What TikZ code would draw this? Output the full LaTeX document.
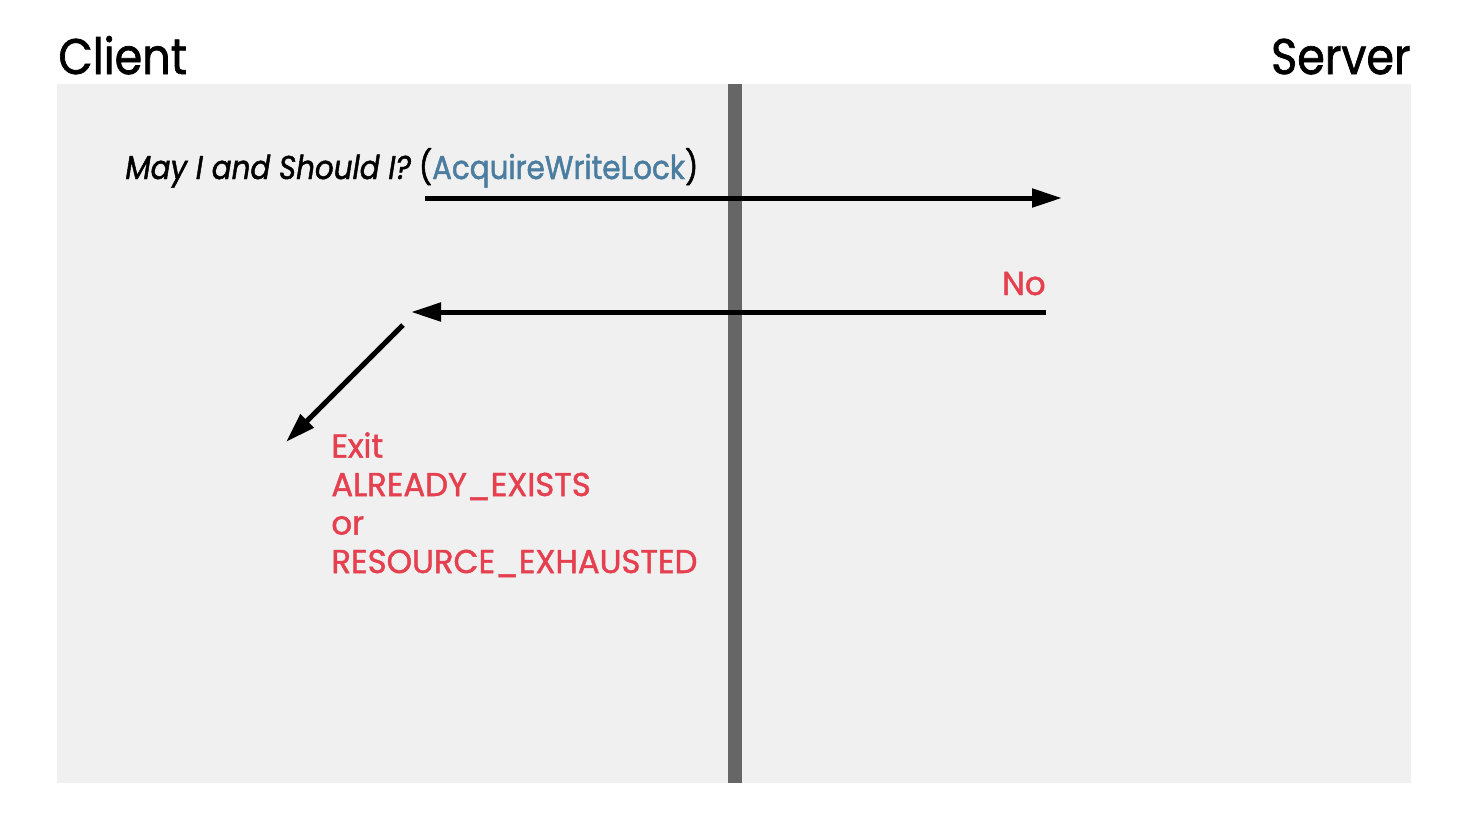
\documentclass[tikz,border=0pt]{standalone}
\usepackage{fontspec}
\setmainfont{Poppins}[FakeStretch=0.89, FakeBold=1.4]
\newfontfamily\replyfont{Poppins}[FakeStretch=0.98, FakeBold=1.4]
\usepackage{xcolor}
\usetikzlibrary{arrows.meta}

\definecolor{panelgray}{HTML}{F0F0F0}
\definecolor{bargray}{HTML}{666666}
\definecolor{noRed}{HTML}{E5404F}
\definecolor{rpcBlue}{HTML}{4A7DA0}

\begin{document}
\begin{tikzpicture}[x=0.5pt, y=-0.5pt,
    msg/.style={line width=2.5pt, -{Triangle[length=15pt, width=9pt]}},
    title/.style={inner sep=0, font=\fontsize{25}{30}\selectfont},
    reply/.style={inner sep=0, text=noRed, font=\replyfont\fontsize{16.5}{19.25}\selectfont}]
    \useasboundingbox (0,0) rectangle (1482,832);
    \fill[panelgray] (57,84) rectangle (1411,783);
    \fill[bargray] (728,84) rectangle (742,783);

    \node[title, anchor=base west] (client) at (58,74) {Client};
    \node[title, anchor=base east] (server) at (1411,74) {Server};

    \node[inner sep=0, anchor=base west, font=\fontsize{16.5}{20}\selectfont] (ask) at (125,179)
        {\textit{May I and Should I?} (\textcolor{rpcBlue}{AcquireWriteLock})};
    \node[reply, anchor=base east] (no) at (1046,295) {No};
    \node[reply, anchor=north west, align=left] (exit) at (331,432)
        {Exit\\ALREADY\_EXISTS\\or\\RESOURCE\_EXHAUSTED};

    \coordinate (askFrom) at (425,198);
    \coordinate (askTo) at (1062,198);
    \coordinate (noFrom) at (1046,312);
    \coordinate (noTo) at (411,312);
    \coordinate (exitFrom) at (403,325);
    \coordinate (exitTo) at (286,442);

    \draw[msg] (askFrom) -- (askTo);
    \draw[msg] (noFrom) -- (noTo);
    \draw[msg] (exitFrom) -- (exitTo);
\end{tikzpicture}
\end{document}
